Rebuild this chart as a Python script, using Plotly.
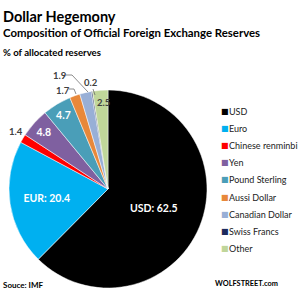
import plotly.graph_objects as go

labels = ["USD", "Euro", "Chinese renminbi", "Yen", "Pound Sterling",
          "Aussi Dollar", "Canadian Dollar", "Swiss Francs", "Other"]
values = [62.5, 20.4, 1.4, 4.8, 4.7, 1.7, 1.9, 0.2, 2.5]
colors = ["#000000", "#00B0F0", "#FF0000", "#7F60A0", "#4A9EB8",
          "#E8883A", "#98AFD6", "#1B2A5C", "#C0D69A"]
texts = ["USD: 62.5", "EUR: 20.4", "", "4.8", "4.7", "", "", "", ""]

FONT = "Lato"

fig = go.Figure(go.Pie(
    labels=labels, values=values, sort=False, direction="clockwise", rotation=0,
    marker=dict(colors=colors, line=dict(color="white", width=0.5)),
    text=texts, texttemplate="<b>%{text}</b>", textposition="inside",
    insidetextorientation="horizontal",
    textfont=dict(family=FONT, size=10.5, color="white"),
    domain=dict(x=[0.03, 0.69], y=[0.04, 0.70]),
    hoverinfo="skip", showlegend=False,
))

ann = []
def a(x, y, text, size, color="#000000", bold=True, xanchor="left"):
    ann.append(dict(x=x, y=y, xref="paper", yref="paper",
                    text=("<b>%s</b>" % text) if bold else text,
                    showarrow=False, xanchor=xanchor, yanchor="middle",
                    borderpad=0,
                    font=dict(family=FONT, size=size, color=color)))

def px(x):
    return x / 300.0

def py(y):
    return 1 - y / 300.0

a(px(2), py(16), "Dollar Hegemony", 14.5)
a(px(2), py(33), "Composition of Official Foreign Exchange Reserves", 11.4)
a(px(2), py(52), "% of allocated reserves", 9.6)
a(px(2), py(285), "Souce: IMF", 8)
a(px(214), py(283), "WOLFSTREET.com", 7.4)

# outside value labels
LBL = "#404040"
a(px(8), py(131), "1.4", 9.5, LBL)
a(px(55), py(90), "1.7", 9.5, LBL)
a(px(52), py(75), "1.9", 9.5, LBL)
a(px(83), py(83), "0.2", 9.5, LBL)
a(px(96), py(102), "2.5", 9.5, LBL)

# custom legend
for i, (lab, col) in enumerate(zip(labels, colors)):
    yy = py(111 + i * 17.2)
    ann.append(dict(x=px(220), y=yy, xref="paper", yref="paper", text="■",
                    showarrow=False, xanchor="left", yanchor="middle", borderpad=0,
                    font=dict(family="DejaVu Sans", size=8, color=col)))
    a(px(228), yy, lab, 9.0, "#222222", bold=False)

def seg(pts):
    p = "M " + " L ".join("%f %f" % (px(x), py(y)) for x, y in pts)
    return dict(type="path", xref="paper", yref="paper", path=p,
                line=dict(color="#707070", width=0.8))

shapes = [
    seg([(66, 75), (72, 75), (88, 92)]),
    seg([(69, 89), (74, 89), (76, 94)]),
    seg([(93, 89), (95, 95)]),
]

fig.update_layout(
    width=300, height=300, margin=dict(l=0, r=0, t=0, b=0, autoexpand=False),
    paper_bgcolor="white", plot_bgcolor="white",
    annotations=ann, shapes=shapes,
    showlegend=False,
)
fig.write_html("out.html")
